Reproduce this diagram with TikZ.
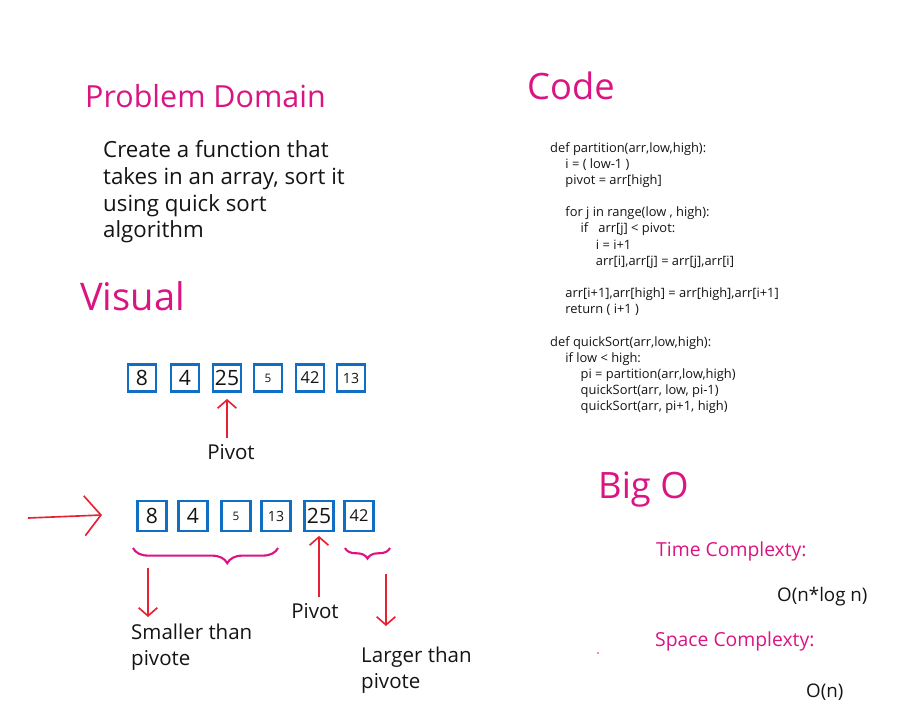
\documentclass[tikz,border=0pt]{standalone}
\usepackage{fontspec}
\setmainfont{Open Sans}
\usetikzlibrary{arrows.meta,decorations.pathreplacing}
\definecolor{SketchPink}{RGB}{218,20,130}
\definecolor{SketchRed}{RGB}{232,32,52}
\definecolor{SketchBlue}{RGB}{16,110,196}
\definecolor{InkBlack}{RGB}{20,20,20}

\begin{document}
\begin{tikzpicture}[x=0.03cm, y=-0.03cm,
    heading/.style={anchor=west, text=SketchPink, inner sep=0pt},
    note/.style={anchor=west, text=InkBlack, align=left, inner sep=0pt, font=\fontsize{17.5}{22.5}\selectfont},
    cell/.style={draw=SketchBlue, line width=2.3pt, minimum width=0.84cm, minimum height=0.82cm, inner sep=0pt, text=InkBlack, font=\fontsize{18}{18}\selectfont},
    lowcell/.style={cell, minimum width=0.88cm, minimum height=0.9cm},
    redarrow/.style={SketchRed, line width=1.4pt, -{Straight Barb[length=7pt,width=16pt]}},
    bracket/.style={SketchPink, line width=1.8pt, decorate, decoration={brace, amplitude=13pt, aspect=0.35}}
]
\useasboundingbox (0,0) rectangle (907,718);

% Problem Domain
\node[heading, font=\fontsize{26}{26}\selectfont] (problem) at (85,96) {Problem Domain};
\node[note, font=\fontsize{19}{22.7}\selectfont] (task) at (103,192) {Create a function that\\takes in an array, sort it\\using quick sort\\algorithm};

% Code
\node[heading, font=\fontsize{31}{31}\selectfont] (codetitle) at (527,86) {Code};
\node[anchor=north west, align=left, inner sep=0pt, text=InkBlack, font=\fontsize{11}{13.8}\selectfont] (code) at (550,142) {%
def partition(arr,low,high):\\
\hspace*{13pt}i = ( low-1 )\\
\hspace*{13pt}pivot = arr[high]\\[13.8pt]
\hspace*{13pt}for j in range(low , high):\\
\hspace*{26pt}if \ \ arr[j] < pivot:\\
\hspace*{39pt}i = i+1\\
\hspace*{39pt}arr[i],arr[j] = arr[j],arr[i]\\[13.8pt]
\hspace*{13pt}arr[i+1],arr[high] = arr[high],arr[i+1]\\
\hspace*{13pt}return ( i+1 )\\[13.8pt]
def quickSort(arr,low,high):\\
\hspace*{13pt}if low < high:\\
\hspace*{26pt}pi = partition(arr,low,high)\\
\hspace*{26pt}quickSort(arr, low, pi-1)\\
\hspace*{26pt}quickSort(arr, pi+1, high)};

% Visual
\node[heading, font=\fontsize{32.5}{32.5}\selectfont] (visual) at (80,296) {Visual};

% first array
\node[cell] (a1) at (142,378) {8};
\node[cell] (a2) at (185,378) {4};
\node[cell] (a3) at (227,378) {25};
\node[cell, font=\fontsize{10}{10}\selectfont] (a4) at (268,378) {5};
\node[cell, font=\fontsize{14}{14}\selectfont] (a5) at (310,378) {42};
\node[cell, font=\fontsize{12}{12}\selectfont] (a6) at (351,378) {13};
\node[note, anchor=center] (pivotA) at (231,452) {Pivot};
\draw[redarrow, shorten <=5pt, shorten >=5pt] (a3 |- pivotA.north) -- (a3.south);

% second array
\coordinate (inStart) at (28,518);
\coordinate (inEnd) at (102,515);
\draw[redarrow, -{Straight Barb[length=14pt,width=34pt]}] (inStart) -- (inEnd);
\node[lowcell] (b1) at (152,516) {8};
\node[lowcell] (b2) at (193,516) {4};
\node[lowcell, font=\fontsize{10}{10}\selectfont] (b3) at (236,516) {5};
\node[lowcell, font=\fontsize{12}{12}\selectfont] (b4) at (276,516) {13};
\node[lowcell] (b5) at (319,516) {25};
\node[lowcell, font=\fontsize{14}{14}\selectfont] (b6) at (359,516) {42};

% braces
\coordinate (lowL) at (133,548);
\coordinate (lowR) at (278,548);
\coordinate (highL) at (345,548);
\coordinate (highR) at (390,548);
\draw[bracket] (lowR) -- (lowL);
\draw[bracket, decoration={aspect=0.5, amplitude=9pt}] (highR) -- (highL);

% labels under
\coordinate (smallTop) at (148,568);
\coordinate (largeTop) at (386,574);
\node[note] (smaller) at (131,647) {Smaller than\\pivote};
\node[note, anchor=center] (pivotB) at (315,611) {Pivot};
\node[note] (larger) at (361,670) {Larger than\\pivote};
\draw[redarrow] (smallTop) -- (smallTop |- 0,617);
\draw[redarrow] (largeTop) -- (largeTop |- 0,626);
\draw[redarrow, shorten <=5pt, shorten >=3pt] (b5 |- pivotB.north) -- (b5.south);

% Big O
\node[heading, font=\fontsize{31}{31}\selectfont] (bigo) at (598,490) {Big O};
\node[heading, font=\fontsize{16.5}{16.5}\selectfont] (timeC) at (656,551) {Time Complexty:};
\node[note, font=\fontsize{16}{16}\selectfont] (timeV) at (777,597) {O(n*log n)};
\node[heading, font=\fontsize{16.5}{16.5}\selectfont] (spaceC) at (655,641) {Space Complexty:};
\node[note, font=\fontsize{16}{16}\selectfont] (spaceV) at (806,692) {O(n)};
\fill[SketchRed] (598,653) circle (0.8pt);

\end{tikzpicture}
\end{document}
